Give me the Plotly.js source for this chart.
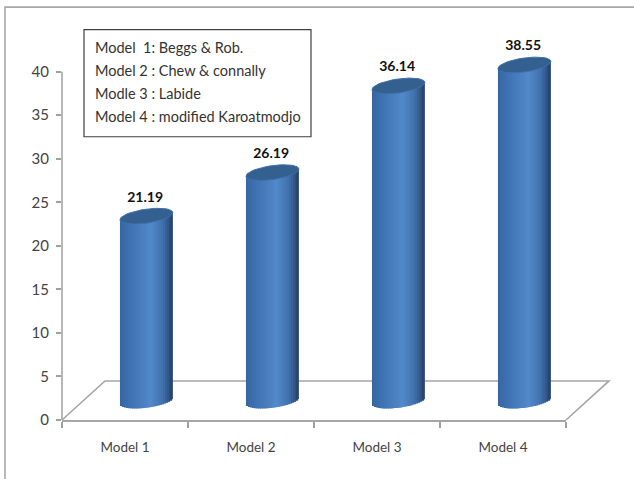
<!DOCTYPE html>
<html>
<head>
<meta charset="utf-8">
<script src="https://cdn.plot.ly/plotly-3.0.1.min.js"></script>
<style>html,body{margin:0;padding:0;background:#fff}#chart{width:634px;height:479px}</style>
</head>
<body>
<div id="chart"></div>
<script>
const categories = ['Model 1', 'Model 2', 'Model 3', 'Model 4'];
const values = [21.19, 26.19, 36.14, 38.55];
const valueLabels = ['21.19', '26.19', '36.14', '38.55'];
const legendLines = ['Model  1: Beggs & Rob.', 'Model 2 : Chew & connally', 'Modle 3 : Labide', 'Model 4 : modified Karoatmodjo'];
const yTicks = [0, 5, 10, 15, 20, 25, 30, 35, 40];
const shadeStops = [[0, [54, 102, 160]], [0.25, [66, 118, 182]], [0.58, [82, 137, 202]], [0.8, [66, 114, 172]], [1, [38, 66, 106]]];

const W = 634, H = 479, L = 62, R = 566, B = 420, pxY = 8.7, yMax = 48;
const T = B - yMax * pxY;
const floorLift = 2.22, xShift = 0.17, halfW = 0.21, capB = 7 / pxY, capK = 3.5 / pxY, strips = 27, labelGap = 4.3;

function shade(u) {
  for (let i = 1; i < shadeStops.length; i++) {
    if (u <= shadeStops[i][0]) {
      const a = shadeStops[i - 1], b = shadeStops[i], f = (u - a[0]) / (b[0] - a[0]);
      return 'rgb(' + a[1].map((c, k) => Math.round(c + (b[1][k] - c) * f)).join(',') + ')';
    }
  }
  return '#264268';
}
// vertical offset of the lower rim of a tilted ellipse, at position n in [-1, 1]
const rimLow = n => -capB * Math.sqrt(Math.max(0, 1 - n * n)) + capK * n;

const traces = [];
for (let s = 0; s < strips; s++) {
  const w = 2 * halfW / strips, n = (s + 0.5) / strips * 2 - 1;
  traces.push({
    type: 'bar', x: categories,
    y: values.map(v => v - rimLow(n) + capK * n),
    base: values.map(() => floorLift + rimLow(n)),
    width: s === strips - 1 ? w : w * 1.6, offset: xShift - halfW + s * w,
    marker: {color: shade((s + 0.5) / strips), line: {width: 0}},
    cliponaxis: false, hoverinfo: 'skip', showlegend: false
  });
}
// top caps of the cylinders, on a hidden numeric twin of the category axis
const capXs = [], capYs = [];
values.forEach((v, i) => {
  for (let t = 0; t <= 60; t++) {
    const a = t / 60 * 2 * Math.PI;
    capXs.push(i + xShift + halfW * Math.cos(a));
    capYs.push(v + floorLift + capB * Math.sin(a) + capK * Math.cos(a));
  }
  capXs.push(null); capYs.push(null);
});
traces.push({
  type: 'scatter', mode: 'lines', xaxis: 'x2', yaxis: 'y', x: capXs, y: capYs,
  fill: 'toself', fillcolor: '#33608f', line: {color: '#3f70ac', width: 1},
  hoverinfo: 'skip', showlegend: false
});
traces.push({
  type: 'scatter', mode: 'text', xaxis: 'x2', yaxis: 'y',
  x: values.map((v, i) => i + xShift - 0.01),
  y: values.map(v => v + labelGap),
  text: valueLabels, textposition: 'middle center',
  textfont: {family: 'Lato', size: 14, color: '#111', weight: 700},
  hoverinfo: 'skip', showlegend: false
});

const px = x => (x - L) / (R - L), py = y => (B - y) / (B - T);
const shapes = [
  {type: 'path', xref: 'paper', yref: 'paper', layer: 'below',
   path: `M ${px(L)} ${py(B)} L ${px(105)} ${py(381)} L ${px(609)} ${py(381)} L ${px(R)} ${py(B)}`,
   line: {color: '#a6a6a6', width: 1.6}, fillcolor: 'rgba(0,0,0,0)'},
  {type: 'path', xref: 'paper', yref: 'paper', layer: 'below',
   path: `M ${px(5)} ${py(H + 5)} L ${px(5)} ${py(7.5)} L ${px(W + 5)} ${py(7.5)}`,
   line: {color: '#a8a8a8', width: 1.6}, fillcolor: 'rgba(0,0,0,0)'},
  {type: 'line', xref: 'paper', yref: 'y', layer: 'below', x0: 0, x1: 0,
   y0: yTicks[0], y1: yTicks[yTicks.length - 1], line: {color: '#a6a6a6', width: 1.6}},
  {type: 'rect', xref: 'paper', yref: 'paper', layer: 'above',
   x0: px(84), x1: px(311), y0: py(137), y1: py(30),
   line: {color: '#404040', width: 1.2}, fillcolor: '#fff'}
];

const annotations = legendLines.map((t, i) => ({
  xref: 'paper', yref: 'paper', x: px(93), y: py(48 + i * 23),
  xanchor: 'left', yanchor: 'middle', showarrow: false, align: 'left',
  text: t, font: {family: 'Lato', size: 14.5, color: '#333'}
}));

Plotly.newPlot('chart', traces, {
  width: W, height: H,
  margin: {l: L, r: W - R, t: T, b: H - B, pad: 0},
  paper_bgcolor: '#fff', plot_bgcolor: 'rgba(0,0,0,0)',
  barmode: 'overlay', showlegend: false,
  font: {family: 'Lato', color: '#444'},
  xaxis: {type: 'category', categoryorder: 'array', categoryarray: categories, range: [-0.5, 3.5],
    tickson: 'boundaries', ticks: 'outside', ticklen: 6, tickwidth: 1.5, tickcolor: '#a0a0a0',
    showline: true, linecolor: '#a6a6a6', linewidth: 1.6, showgrid: false, zeroline: false,
    ticklabelstandoff: 14,
    tickfont: {family: 'Lato', size: 13.5, color: '#444'}},
  xaxis2: {type: 'linear', overlaying: 'x', range: [-0.5, 3.5], visible: false},
  yaxis: {range: [0, yMax], tickmode: 'array', tickvals: yTicks, ticktext: yTicks.map(String),
    ticks: 'outside', ticklen: 5, tickwidth: 1.5, tickcolor: '#a0a0a0',
    showline: false, showgrid: false, zeroline: false,
    ticklabelstandoff: 4,
    tickfont: {family: 'Lato', size: 15, color: '#444'}},
  shapes, annotations
}, {displayModeBar: false});
</script>
</body>
</html>
